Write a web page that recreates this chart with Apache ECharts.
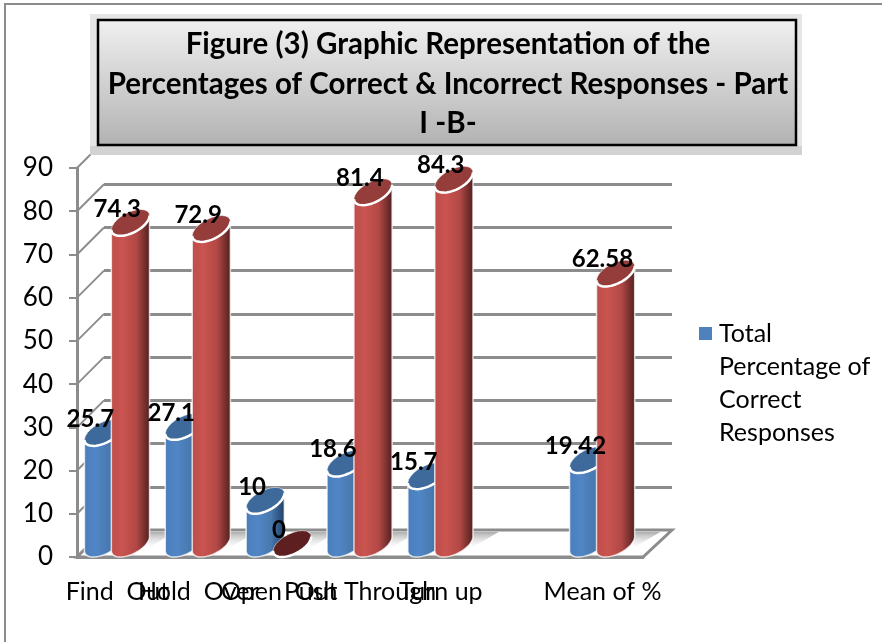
<!DOCTYPE html>
<html>
<head>
<meta charset="utf-8">
<style>
  html, body { margin: 0; padding: 0; background: #fff; }
  #chart { width: 882px; height: 642px; }
</style>
<script src="https://cdn.jsdelivr.net/npm/echarts@6/dist/echarts.min.js"></script>
</head>
<body>
<div id="chart"></div>
<script>
var categories = ['Find  Out', 'Hold  Over', 'Open  Out', 'Push Through', 'Turn up', ' ', 'Mean of %']
var correct = [25.7, 27.1, 10, 18.6, 15.7, null, 19.42]
var incorrect = [74.3, 72.9, 0, 81.4, 84.3, null, 62.58]
var yTicks = [0, 10, 20, 30, 40, 50, 60, 70, 80, 90]
var correctName = 'Total\nPercentage of\nCorrect\nResponses'
var incorrectName = 'Total Percentage of Incorrect Responses'
var titleText = 'Figure (3) Graphic Representation of the\nPercentages of Correct & Incorrect Responses - Part\nI -B-'

var FONT = 'Lato'
var GREY = '#8c8c8c'
var DEPTH = 27
var TILT = 32.6

function toPoints(list) {
  return list.map(function (v, i) { return v === null ? null : [i, v] }).filter(Boolean)
}

// points on the tilted ellipse of a cylinder end
function arc(cx, cy, r, from, to) {
  var pts = []
  for (var k = 0; k <= 24; k++) {
    var t = (from + (to - from) * k / 24) * Math.PI / 180
    pts.push([cx + r * 1.22 * Math.cos(t) + r * 0.78 * Math.sin(t), cy - r * Math.sin(t)])
  }
  return pts
}

function cylinder(shift, colors) {
  return function (params, api) {
    var i = api.value(0)
    var v = api.value(1)
    var band = api.size([1, 0])[0]
    var r = band * 0.163
    var top = api.coord([i, v])
    var base = api.coord([i, 0])
    var cx = top[0] + band * shift
    var cyTop = top[1] - r
    var cyBase = base[1] - r
    var left = 180 + TILT
    var right = 360 + TILT
    var children = []
    if (v > 0) {
      children.push({
        type: 'polygon',
        shape: { points: arc(cx, cyBase, r, left, right).concat(arc(cx, cyTop, r, right, left)) },
        style: {
          fill: new echarts.graphic.LinearGradient(0, 0, 1, 0, [
            { offset: 0, color: colors[0] },
            { offset: 0.3, color: colors[1] },
            { offset: 0.65, color: colors[2] },
            { offset: 1, color: colors[3] }
          ]),
          stroke: 'rgba(255,255,255,0.75)',
          lineWidth: 1.5
        }
      })
    }
    children.push({
      type: 'polygon',
      shape: { points: arc(cx, cyTop, r, 0, 360) },
      style: { fill: v > 0 ? colors[4] : colors[5], stroke: 'rgba(255,255,255,0.5)', lineWidth: 1 }
    })
    children.push({
      type: 'polyline',
      shape: { points: arc(cx, cyTop, r, left, right) },
      style: { fill: 'none', stroke: '#fff', lineWidth: 2.5 }
    })
    children.push({
      type: 'text',
      z2: 100,
      style: {
        x: cx - r,
        y: top[1] - 27,
        text: String(v),
        align: 'center',
        verticalAlign: 'middle',
        fill: '#000',
        font: 'bold 24px ' + FONT
      }
    })
    return { type: 'group', children: children }
  }
}

function renderFloor(params, api) {
  var c = params.coordSys
  var b = c.y + c.height
  return {
    type: 'polygon',
    shape: { points: [[c.x, b], [c.x + c.width, b], [c.x + c.width + 29, b - DEPTH], [c.x + DEPTH, b - DEPTH]] },
    style: { fill: '#fff', stroke: GREY, lineWidth: 3 }
  }
}

function renderWall(params, api) {
  var c = params.coordSys
  var y = api.coord([0, api.value(1)])[1]
  return {
    type: 'line',
    shape: { x1: c.x, y1: y, x2: c.x + DEPTH, y2: y - DEPTH },
    style: { stroke: GREY, lineWidth: 2 }
  }
}

// soft shadow the cylinders throw on the floor
function renderShadow(params, api) {
  var band = api.size([1, 0])[0]
  var p = api.coord([api.value(0), 0])
  var x = p[0] + band * api.value(1)
  return {
    type: 'polygon',
    shape: { points: [[x, p[1] - DEPTH + 2], [x + 27, p[1] - DEPTH + 2], [x, p[1] - 9]] },
    style: {
      fill: new echarts.graphic.LinearGradient(0, 0, 0, 1, [
        { offset: 0, color: '#adadad' },
        { offset: 1, color: 'rgba(235,235,235,0.1)' }
      ])
    }
  }
}

var blueShades = ['#4a7dba', '#5186c6', '#4878ad', '#1f3d63', '#3e6a9b', '#3e6a9b']
var redShades = ['#bd4d4a', '#ca5450', '#b14845', '#4e1e1d', '#953d3b', '#5e1f20']

var chart = echarts.init(document.getElementById('chart'))
chart.setOption({
  animation: false,
  backgroundColor: '#fff',
  title: {
    text: titleText,
    left: 448,
    top: 25,
    padding: 0,
    textAlign: 'center',
    textStyle: { fontFamily: FONT, fontWeight: 'bold', fontSize: 29.5, lineHeight: 39.5, color: '#000' }
  },
  legend: {
    left: 699,
    top: 317,
    padding: 0,
    data: [{
      name: correctName,
      icon: 'path://M0 0H13V13H0Z M15 112L15 112'
    }],
    itemWidth: 15,
    itemHeight: 112,
    itemGap: 0,
    selectedMode: false,
    textStyle: { fontFamily: FONT, fontSize: 25, lineHeight: 33, color: '#000' }
  },
  grid: [
    { left: 77, right: 239, top: 168, bottom: 85 },
    { left: 104, right: 210, top: 141, bottom: 112 }
  ],
  xAxis: [
    {
      type: 'category',
      gridIndex: 0,
      data: categories,
      axisLine: { lineStyle: { color: GREY, width: 3 } },
      axisTick: { length: 10, lineStyle: { color: GREY, width: 2 } },
      axisLabel: { interval: 0, hideOverlap: false, margin: 22, color: '#000', fontFamily: FONT, fontSize: 25 }
    },
    { type: 'category', gridIndex: 1, data: categories, show: false }
  ],
  yAxis: [
    {
      type: 'value',
      gridIndex: 0,
      min: 0,
      max: 90,
      interval: 10,
      axisLine: { show: true, lineStyle: { color: GREY, width: 3 } },
      axisTick: { show: true, length: 8, lineStyle: { color: GREY, width: 2 } },
      axisLabel: { margin: 24, padding: [2, 0, 0, 0], color: '#000', fontFamily: FONT, fontSize: 26 },
      splitLine: { show: false }
    },
    {
      type: 'value',
      gridIndex: 1,
      min: 0,
      max: 90,
      interval: 10,
      axisLine: { show: false },
      axisTick: { show: false },
      axisLabel: { show: false },
      splitLine: { show: true, lineStyle: { color: GREY, width: 3 } }
    }
  ],
  series: [
    {
      type: 'custom',
      name: 'floor',
      renderItem: renderFloor,
      data: [[0, 0]],
      silent: true,
      clip: false
    },
    {
      type: 'custom',
      name: 'walls',
      renderItem: renderWall,
      data: yTicks.map(function (t) { return [0, t] }),
      silent: true,
      clip: false
    },
    {
      type: 'custom',
      name: 'shadows',
      renderItem: renderShadow,
      data: toPoints(incorrect).map(function (p) { return [p[0], 0.38] }),
      silent: true,
      clip: false
    },
    {
      type: 'custom',
      name: correctName,
      renderItem: cylinder(-0.172, blueShades),
      itemStyle: { color: '#4f81bd' },
      data: toPoints(correct),
      clip: false
    },
    {
      type: 'custom',
      name: incorrectName,
      renderItem: cylinder(0.161, redShades),
      itemStyle: { color: '#c0504d' },
      data: toPoints(incorrect),
      clip: false
    }
  ],
  graphic: [
    {
      type: 'rect',
      z: 0,
      silent: true,
      shape: { x: 5, y: 4, width: 900, height: 700 },
      style: { fill: 'none', stroke: GREY, lineWidth: 2 }
    },
    {
      type: 'rect',
      z: 4,
      silent: true,
      shape: { x: 90, y: 14, width: 712, height: 141 },
      style: { fill: '#e6e6e6' }
    },
    {
      type: 'rect',
      z: 4,
      silent: true,
      shape: { x: 90, y: 146, width: 712, height: 9 },
      style: { fill: '#d2d2d2' }
    },
    {
      type: 'rect',
      z: 5,
      silent: true,
      shape: { x: 98, y: 20, width: 698, height: 125 },
      style: {
        fill: new echarts.graphic.LinearGradient(0, 0, 0, 1, [
          { offset: 0, color: '#f0f0f0' },
          { offset: 1, color: '#b2b2b2' }
        ]),
        stroke: '#000',
        lineWidth: 2.5
      }
    }
  ]
})
</script>
</body>
</html>
